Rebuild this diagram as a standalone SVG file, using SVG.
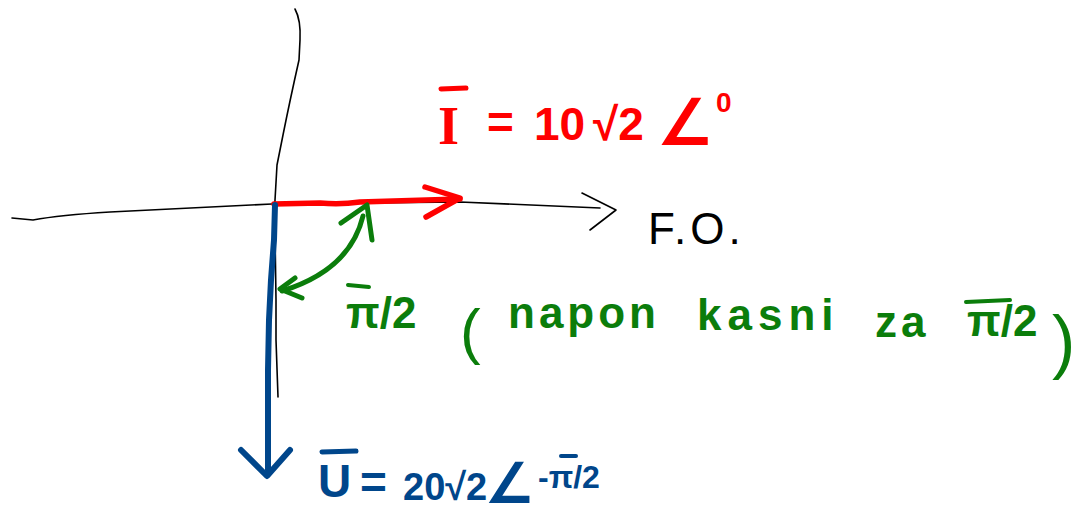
<svg xmlns="http://www.w3.org/2000/svg" width="1080" height="519" viewBox="0 0 1080 519">
<style>
.ax{fill:none;stroke:#000;stroke-width:1.6;stroke-linecap:round;stroke-linejoin:round}
.red{fill:none;stroke:#ff0000;stroke-width:5.5;stroke-linecap:round;stroke-linejoin:round}
.blue{fill:none;stroke:#00468b;stroke-width:6;stroke-linecap:round;stroke-linejoin:round}
.green{fill:none;stroke:#0b7d0b;stroke-width:5;stroke-linecap:round;stroke-linejoin:round}
.tr{font-family:"Liberation Sans",Arial,sans-serif;font-weight:bold;fill:#ff0000}
.tg{font-family:"Liberation Sans",Arial,sans-serif;font-weight:bold;fill:#0b7d0b}
.tb{font-family:"Liberation Sans",Arial,sans-serif;font-weight:bold;fill:#00468b}
.tk{font-family:"Liberation Sans",Arial,sans-serif;fill:#000}
.ang{font-family:"DejaVu Sans",sans-serif;font-weight:normal}
</style>
<g id="connectors">
  <g id="axes">
    <path class="ax" d="M295,9 Q301,20 300,40 L299,60 Q290,100 283,135 L277,165 L275,200 L274,230"/>
    <path class="ax" d="M275,230 L276,300 Q276,330 276,340 L278,397"/>
    <path class="ax" d="M12,218 L33,220 Q60,215 110,212 L272,204 L460,202 L600,208"/>
    <path class="ax" d="M582,193 L616,210 L590,230"/>
  </g>
  <g id="current-phasor">
    <path class="red" d="M274,204 L320,203 Q340,205 360,202 L460,199"/>
    <path class="red" d="M425,187 L460,198 L426,217"/>
  </g>
  <g id="voltage-phasor">
    <path class="blue" d="M275,205 L274,240 L271,280 L269,320 L268,370 L268,470"/>
    <path class="blue" d="M241,450 L267,476 L290,450"/>
  </g>
  <g id="angle-arc">
    <path class="green" d="M363,216 Q350,270 282,291"/>
    <path class="green" d="M341,223 L367,205 L372,240"/>
    <path class="green" d="M295,278 L280,289 L302,298"/>
  </g>
</g>
<g id="label-current">
  <line x1="441" y1="89" x2="466" y2="88" stroke="#ff0000" stroke-width="5" stroke-linecap="round"/>
  <text class="tr" font-size="46"><tspan x="438" y="144" font-family="Liberation Serif, serif" font-size="54">I</tspan><tspan x="487" y="138">=</tspan><tspan x="534" y="140">10</tspan><tspan x="593" y="140">√2</tspan><tspan x="658" y="144" class="ang" font-size="62" stroke="#ff0000" stroke-width="2">∠</tspan><tspan x="716" y="112" font-size="28">0</tspan></text>
</g>
<g id="label-axis">
  <text class="tk" x="648" y="244" font-size="44" letter-spacing="4">F.O.</text>
</g>
<g id="label-angle">
  <line x1="348" y1="285" x2="369" y2="287" stroke="#0b7d0b" stroke-width="4" stroke-linecap="round"/>
  <text class="tg" font-size="44"><tspan x="346" y="328">π/2</tspan><tspan x="460" y="352" font-size="62" font-weight="normal">(</tspan><tspan x="508" y="328" letter-spacing="4">napon</tspan><tspan x="697" y="330" letter-spacing="6">kasni</tspan><tspan x="875" y="337" letter-spacing="4">za</tspan><tspan x="967" y="336">π/2</tspan><tspan x="1052" y="365" font-size="70" font-weight="normal">)</tspan></text>
  <line x1="966" y1="302" x2="1010" y2="300" stroke="#0b7d0b" stroke-width="4" stroke-linecap="round"/>
</g>
<g id="label-voltage">
  <line x1="322" y1="452" x2="356" y2="451" stroke="#00468b" stroke-width="5" stroke-linecap="round"/>
  <text class="tb" font-size="46"><tspan x="318" y="497">U</tspan><tspan x="360" y="498">=</tspan><tspan x="403" y="500" font-size="38">20√2</tspan><tspan x="486" y="502" class="ang" font-size="54" stroke="#00468b" stroke-width="2">∠</tspan><tspan x="538" y="488" font-size="32">-π/2</tspan></text>
  <line x1="561" y1="456" x2="576" y2="456" stroke="#00468b" stroke-width="4" stroke-linecap="round"/>
</g>
</svg>
